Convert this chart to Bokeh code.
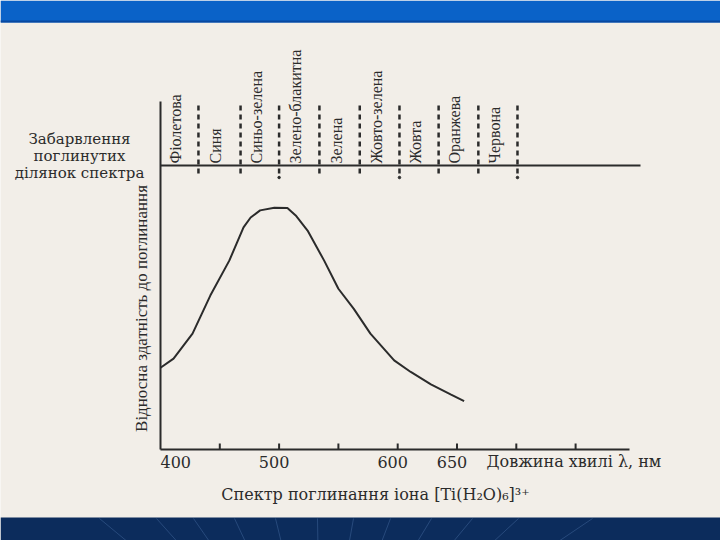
import math
from bokeh.plotting import figure
from bokeh.models import Range1d
from bokeh.embed import file_html
from bokeh.resources import INLINE
from bokeh.core.properties import value

# ---- data ----
wavelength_nm = [400, 411, 427, 442, 458, 470, 476, 484, 496, 507, 514,
                 524, 538, 550, 563, 577, 597, 611, 628, 645, 656]
relative_absorption = [28.8, 32.0, 40.8, 54.2, 66.5, 78.2, 81.7, 84.2, 85.1,
                       85.0, 82.4, 77.1, 66.5, 56.6, 49.5, 40.8, 31.4, 27.3,
                       22.9, 19.3, 17.0]
band_edges_nm = [432, 467.5, 500, 534, 568, 601.5, 634.5, 668, 701]
band_colours = ["Фіолетова", "Синя", "Синьо-зелена", "Зелено-блакитна",
                "Зелена", "Жовто-зелена", "Жовта", "Оранжева", "Червона"]
tick_values = [450, 500, 550, 600, 650, 700, 750]
tick_label_values = [500, 600, 650]
tick_label_texts = ["500", "600", "650"]
origin_value = 400
origin_label = "400"
x_axis_title = "Довжина хвилі λ, нм"
y_axis_title = "Відносна здатність до поглинання"
band_title = ["Забарвлення", "поглинутих", "ділянок спектра"]
caption = "Спектр поглинання іона [Ti(H₂O)₆]³⁺"

# ---- styling / layout ----
INK = "#2b2b2b"
PAGE = "#f2eee8"
BLUE = "#0a62c8"
NAVY = "#0c2c5c"
W, H = 720, 540
PX_PER_NM = 1.186      # horizontal scale of the drawing
PX_PER_UNIT = 2.84     # vertical scale of the drawing
ORIGIN_PX = (160, 449) # where 400 nm / zero sits on the page


def nm(px):
    return 400 + (px - ORIGIN_PX[0]) / PX_PER_NM


def un(py):
    return (ORIGIN_PX[1] - py) / PX_PER_UNIT


p = figure(width=W, height=H, x_range=Range1d(nm(0), nm(W)),
           y_range=Range1d(un(H), un(0)), toolbar_location=None,
           output_backend="svg", x_axis_location=None, y_axis_location=None,
           min_border=0, background_fill_color=PAGE, border_fill_color=PAGE,
           outline_line_color=None)
p.grid.visible = False

# slide bands (top bright blue, bottom navy)
p.quad(left=[nm(0), nm(0)], right=[nm(W), nm(W)],
       top=[un(0), un(517)], bottom=[un(22), un(H)],
       fill_color=[BLUE, NAVY], line_color=None)
p.segment(x0=nm(0), y0=un(21), x1=nm(W), y1=un(21), line_color="#0848a0",
          line_width=2)
# faint fan strokes in the navy band
fan_top = [99, 156, 193, 234, 275, 317, 353, 390, 431, 472, 518, 592]
fan_bot = [x + (320 - x) * 0.12 for x in fan_top]
p.segment(x0=[nm(v) for v in fan_top], y0=un(518),
          x1=[nm(v) for v in fan_bot], y1=un(540),
          line_color="#4a6ea4", line_width=1, line_alpha=0.45)

AXIS_END = nm(629)
TOPLINE_END = nm(640)
YAXIS_TOP = un(101)
BAND_LINE = un(165)
SEP_LOW, SEP_HIGH = un(173), un(104)
TICK_H = un(443)

# axes frame lines
p.segment(x0=[origin_value] * 3, y0=[0, 0, BAND_LINE],
          x1=[origin_value, AXIS_END, TOPLINE_END],
          y1=[YAXIS_TOP, 0, BAND_LINE], line_color=INK, line_width=2)
# inward ticks
p.segment(x0=tick_values, y0=0, x1=tick_values, y1=TICK_H,
          line_color=INK, line_width=2)
# dashed band separators
p.segment(x0=band_edges_nm, y0=SEP_LOW, x1=band_edges_nm, y1=SEP_HIGH,
          line_color=INK, line_width=2.5, line_dash="5 4")
p.scatter(x=band_edges_nm[2::3], y=un(177), size=2.5, color=INK)

# band colour names
edges = [origin_value] + band_edges_nm
mids = [(edges[i] + edges[i + 1]) / 2 - 3.0 for i in range(len(band_colours))]
p.text(x=mids, y=[un(163)] * len(mids), text=band_colours,
       angle=math.pi / 2, text_align="left", text_baseline="middle",
       text_font=value("Liberation Serif"), text_font_size="16px",
       text_color=INK)

# spectrum
p.line(wavelength_nm, relative_absorption, line_color=INK, line_width=2)

# tick labels and titles
p.text(x=tick_label_values, y=un(461), text=tick_label_texts, x_offset=-5,
       text_align="center", text_baseline="middle",
       text_font=value("DejaVu Serif"), text_font_size="16px", text_color=INK)
p.text(x=[origin_value], y=[un(461)], text=[origin_label],
       text_align="left", text_baseline="middle",
       text_font=value("DejaVu Serif"), text_font_size="16px", text_color=INK)
p.text(x=[nm(486)], y=[un(461)], text=[x_axis_title],
       text_align="left", text_baseline="middle",
       text_font=value("DejaVu Serif"), text_font_size="16px", text_color=INK)
p.text(x=[nm(79)] * 3, y=[un(138 + 17 * i) for i in range(3)], text=band_title,
       text_align="center", text_baseline="middle",
       text_font=value("DejaVu Serif"), text_font_size="15px", text_color=INK)
p.text(x=[nm(141)], y=[un(308)], text=[y_axis_title], angle=math.pi / 2,
       text_align="center", text_baseline="middle",
       text_font=value("Liberation Serif"), text_font_size="17px",
       text_color=INK)
p.text(x=[nm(375)], y=[un(494)], text=[caption],
       text_align="center", text_baseline="middle",
       text_font=value("DejaVu Serif"), text_font_size="16px", text_color=INK)

open("out.html", "w").write(file_html(p, INLINE))
